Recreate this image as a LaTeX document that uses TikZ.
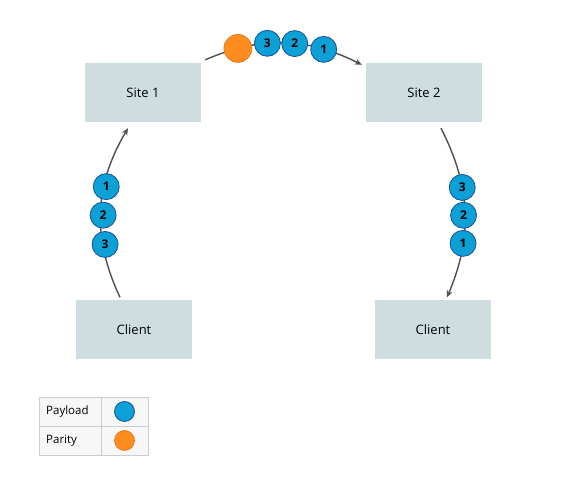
\documentclass[tikz,border=0pt]{standalone}
\usepackage{fontspec}
\setmainfont{Open Sans}
\usetikzlibrary{arrows.meta}
\definecolor{sitebox}{HTML}{CEDDE0}
\definecolor{payblue}{HTML}{0BA0D6}
\definecolor{payedge}{HTML}{1E4F96}
\definecolor{parorange}{HTML}{FF8C1E}
\definecolor{paredge}{HTML}{E07010}
\definecolor{flowgray}{HTML}{4F4F4F}
\definecolor{legline}{HTML}{CCCCCC}
\definecolor{legfill}{HTML}{F7F7F7}

\begin{document}
\begin{tikzpicture}[x=1pt, y=1pt,
  hostbox/.style={fill=sitebox, minimum width=116pt, minimum height=59pt, font=\fontsize{13}{15}\selectfont},
  packet/.style={circle, fill=payblue, draw=payedge, line width=0.8pt, minimum size=26pt, inner sep=0pt, font=\fontsize{12}{14}\selectfont\bfseries},
  parity/.style={circle, fill=parorange, draw=paredge, line width=0.6pt, minimum size=28pt, inner sep=0pt},
  flow/.style={draw=flowgray, line width=1.4pt, -{Stealth[length=7pt,width=6pt]}},
  legcell/.style={draw=legline, fill=legfill, minimum height=29pt, inner sep=0pt, font=\fontsize{11.5}{13}\selectfont}]
\useasboundingbox (0,0) rectangle (566,484);

% hosts
\node[hostbox] (site1) at (143,391.5) {Site 1};
\node[hostbox] (site2) at (424,391.5) {Site 2};
\node[hostbox] (client1) at (134,154.5) {Client};
\node[hostbox] (client2) at (433,154.5) {Client};

% client to site 1
\draw[flow] ([xshift=-14pt,yshift=2.5pt]client1.north) to[bend left=28]
  node[packet, pos=0.31, xshift=2.5pt, yshift=-1pt] (up3) {3}
  node[packet, pos=0.485, xshift=2.5pt, yshift=-1pt] (up2) {2}
  node[packet, pos=0.657, xshift=2pt, yshift=-1pt] (up1) {1}
  ([xshift=-15pt,yshift=-6pt]site1.south);

% site 1 to site 2
\draw[flow] ([xshift=4pt,yshift=3pt]site1.north east) to[bend left=25]
  node[parity, pos=0.20] (across0) {}
  node[packet, pos=0.39] (across3) {3}
  node[packet, pos=0.57] (across2) {2}
  node[packet, pos=0.76] (across1) {1}
  ([xshift=-4pt,yshift=-2pt]site2.north west);

% site 2 to client
\draw[flow] ([xshift=17pt,yshift=-6pt]site2.south) to[bend left=25]
  node[packet, pos=0.35] (down3) {3}
  node[packet, pos=0.52, xshift=-1.5pt] (down2) {2}
  node[packet, pos=0.69] (down1) {1}
  ([xshift=14pt,yshift=2.5pt]client2.north);

% legend
\node[legcell, minimum width=62pt, anchor=west, text width=62pt, align=left] (legpay) at (39,72.5) {\hspace*{7pt}Payload};
\node[legcell, minimum width=47pt] (legpaycell) at (124.5,72.5) {};
\node[legcell, minimum width=62pt, anchor=west, text width=62pt, align=left] (legpar) at (39,43.5) {\hspace*{7pt}Parity};
\node[legcell, minimum width=47pt] (legparcell) at (124.5,43.5) {};
\node[packet, minimum size=20pt] at (legpaycell) {};
\node[parity, minimum size=20pt] at (legparcell) {};
\end{tikzpicture}
\end{document}
